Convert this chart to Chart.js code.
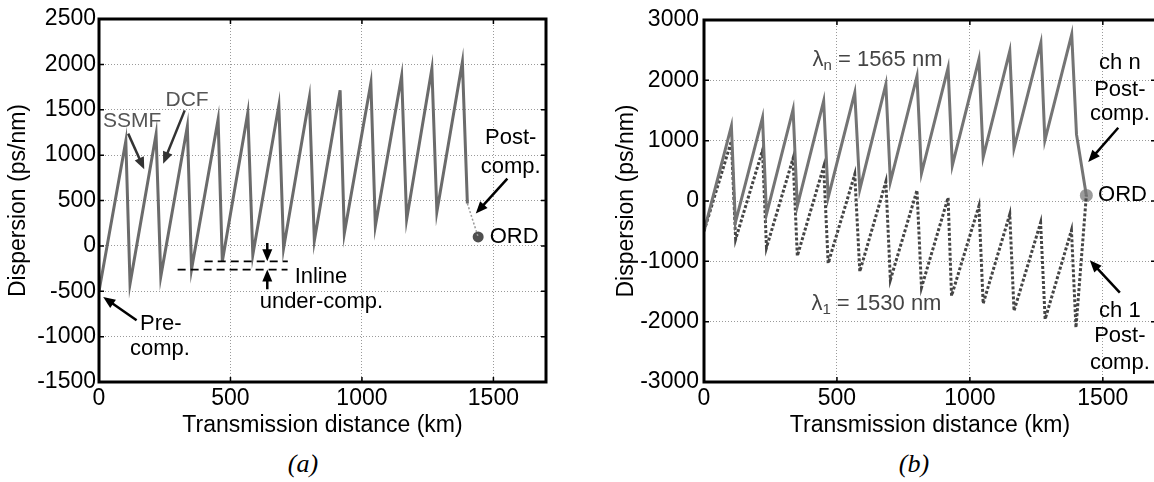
<!DOCTYPE html>
<html>
<head>
<meta charset="utf-8">
<script src="https://cdn.jsdelivr.net/npm/chart.js@4.4.0/dist/chart.umd.min.js"></script>
<style>
html, body { margin: 0; padding: 0; background: #fff; overflow: hidden; width: 1154px; height: 482px; }
#wrapA { position: absolute; left: 0; top: 0; width: 560px; height: 440px; }
#wrapB { position: absolute; left: 600px; top: 0; width: 570px; height: 440px; }
.cap { position: absolute; top: 449px; width: 100px; text-align: center; line-height: 30px;
       font: italic 26px "Liberation Serif", "DejaVu Serif", serif; color: #000; }
</style>
</head>
<body>
<div id="wrapA"><canvas id="chartA"></canvas></div>
<div id="wrapB"><canvas id="chartB"></canvas></div>
<div class="cap" style="left:253px">(a)</div>
<div class="cap" style="left:864px">(b)</div>

<script>
// ---- datos (a): un solo canal ----
const aKm   = [0, 102, 118, 217, 235, 336, 352, 453, 469, 566, 585, 684, 702, 800, 819, 917, 933, 1034, 1051, 1151, 1170, 1266, 1285, 1382, 1401];
const aDisp = [-500, 1155, -418, 1229, -338, 1317, -257, 1394, -173, 1468, -99, 1549, -25, 1633, 58, 1714, 139, 1795, 219, 1872, 292, 1953, 376, 2026, 467];
const aPostKm   = [1401, 1442];
const aPostDisp = [467, 98];
const aOrd = [1442, 98];

// ---- datos (b): canal n (1565 nm) y canal 1 (1530 nm) ----
const nKm   = [0, 103, 118, 220, 235, 335, 351, 450, 467, 567, 586, 684, 701, 801, 818, 918, 934, 1034, 1050, 1150, 1166, 1267, 1282, 1383, 1401, 1438];
const nDisp = [-500, 1242, -359, 1380, -221, 1518, -83, 1656, 55, 1794, 193, 1932, 317, 2070, 460, 2207, 591, 2346, 728, 2483, 872, 2621, 1005, 2760, 1104, 92];
const oneKm   = [0, 103, 119, 220, 235, 335, 351, 450, 467, 567, 586, 684, 701, 801, 818, 918, 931, 1034, 1050, 1150, 1166, 1266, 1283, 1382, 1399, 1438];
const oneDisp = [-500, 993, -634, 839, -773, 707, -911, 568, -1032, 442, -1170, 320, -1308, 177, -1435, 55, -1573, -83, -1700, -221, -1821, -359, -1959, -485, -2098, 92];
const bOrd = [1438, 92];

const xTicks = [0, 500, 1000, 1500];
const aYTicks = [-1500, -1000, -500, 0, 500, 1000, 1500, 2000, 2500];
const bYTicks = [-3000, -2000, -1000, 0, 1000, 2000, 3000];

const FONT = "'Liberation Sans', Arial, Helvetica, sans-serif";

function pts(xs, ys) {
    return xs.map((x, i) => ({ x: x, y: ys[i] }));
}

function arrow(ctx, x1, y1, x2, y2, color) {
    const a = Math.atan2(y2 - y1, x2 - x1), L = 12, H = 5;
    ctx.strokeStyle = color; ctx.fillStyle = color; ctx.lineWidth = 2.5;
    ctx.setLineDash([]);
    ctx.beginPath();
    ctx.moveTo(x1, y1);
    ctx.lineTo(x2 - L * 0.8 * Math.cos(a), y2 - L * 0.8 * Math.sin(a));
    ctx.stroke();
    ctx.beginPath();
    ctx.moveTo(x2, y2);
    ctx.lineTo(x2 - L * Math.cos(a) + H * Math.sin(a), y2 - L * Math.sin(a) - H * Math.cos(a));
    ctx.lineTo(x2 - L * Math.cos(a) - H * Math.sin(a), y2 - L * Math.sin(a) + H * Math.cos(a));
    ctx.closePath();
    ctx.fill();
}

// caja negra, marcas internas y anotaciones
const decoPlugin = {
    id: 'deco',
    afterDatasetsDraw(chart, args, opts) {
        const ctx = chart.ctx, ca = chart.chartArea;
        const xs = chart.scales.x, ys = chart.scales.y;
        const px = v => xs.getPixelForValue(v), py = v => ys.getPixelForValue(v);
        ctx.save();

        // marcas internas
        ctx.strokeStyle = '#000'; ctx.lineWidth = 1.5; ctx.setLineDash([]);
        ctx.beginPath();
        opts.xTicks.forEach(t => {
            ctx.moveTo(px(t), ca.top); ctx.lineTo(px(t), ca.top + 5);
            ctx.moveTo(px(t), ca.bottom); ctx.lineTo(px(t), ca.bottom - 5);
        });
        opts.yTicks.forEach(t => {
            ctx.moveTo(ca.left, py(t)); ctx.lineTo(ca.left + 5, py(t));
            ctx.moveTo(ca.right, py(t)); ctx.lineTo(ca.right - 5, py(t));
        });
        ctx.stroke();

        ctx.lineWidth = 3;
        ctx.strokeRect(ca.left, ca.top, ca.right - ca.left, ca.bottom - ca.top);

        // lineas discontinuas
        (opts.dashes || []).forEach(d => {
            ctx.strokeStyle = '#000'; ctx.lineWidth = 1.8; ctx.setLineDash([8, 5]);
            ctx.beginPath();
            ctx.moveTo(px(d[0]), py(d[1])); ctx.lineTo(px(d[2]), py(d[3]));
            ctx.stroke();
        });
        ctx.setLineDash([]);

        (opts.arrows || []).forEach(a => arrow(ctx, px(a[0]), py(a[1]), px(a[2]), py(a[3]), a[4] || '#000'));

        ctx.textBaseline = 'middle';
        (opts.texts || []).forEach(t => {
            ctx.font = (t.size || 22) + 'px ' + FONT;
            ctx.fillStyle = t.color || '#000';
            ctx.textAlign = t.align || 'left';
            let x = px(t.x);
            const y = py(t.y);
            if (t.sub) {
                ctx.textAlign = 'left';
                ctx.fillText('\u03bb', x, y);
                x += ctx.measureText('\u03bb').width;
                ctx.font = '15px ' + FONT;
                ctx.fillText(t.sub, x, y + 6);
                x += ctx.measureText(t.sub).width;
                ctx.font = (t.size || 22) + 'px ' + FONT;
                ctx.fillText(t.text, x, y);
            } else {
                ctx.fillText(t.text, x, y);
            }
        });
        ctx.restore();
    }
};

function makeScales(yMin, yMax, yStep, yTicks, yWidth, yTitlePad, yTickPad) {
    return {
        x: {
            type: 'linear', min: 0, max: 1700,
            ticks: { stepSize: 500, color: '#000', font: { family: FONT, size: 23 }, padding: 3, maxRotation: 0,
                     callback: v => String(v) },
            afterBuildTicks: s => { s.ticks = xTicks.map(v => ({ value: v })); },
            afterFit: s => { s.height = 58; },
            grid: { color: '#9a9a9a', lineWidth: 1, drawTicks: false },
            border: { display: false, dash: [1, 2] },
            title: { display: true, text: 'Transmission distance (km)', color: '#000',
                     font: { family: FONT, size: 23 }, padding: { top: 0, bottom: 1 } }
        },
        y: {
            type: 'linear', min: yMin, max: yMax,
            ticks: { stepSize: yStep, color: '#000', font: { family: FONT, size: 23 }, padding: yTickPad,
                     callback: v => String(v) },
            afterBuildTicks: s => { s.ticks = yTicks.map(v => ({ value: v })); },
            afterFit: s => { s.width = yWidth; },
            grid: { color: '#9a9a9a', lineWidth: 1, drawTicks: false },
            border: { display: false, dash: [1, 2] },
            title: { display: true, text: 'Dispersion (ps/nm)', color: '#000',
                     font: { family: FONT, size: 23 }, padding: { top: yTitlePad, bottom: 0 } }
        }
    };
}

new Chart(document.getElementById('chartA'), {
    type: 'line',
    data: {
        datasets: [
            { data: pts(aKm, aDisp), borderColor: '#6b6b6b', borderWidth: 3, pointRadius: 0, tension: 0 },
            { data: pts(aPostKm, aPostDisp), borderColor: '#9a9a9a', borderWidth: 1.5, borderDash: [2, 2], pointRadius: 0 },
            { data: [{ x: aOrd[0], y: aOrd[1] }], showLine: false, pointRadius: 5.5, pointBackgroundColor: '#4f4f4f', pointBorderWidth: 0 }
        ]
    },
    options: {
        responsive: true, maintainAspectRatio: false, animation: false,
        layout: { padding: { left: 0, top: 19, right: 14, bottom: 0 } },
        plugins: {
            legend: { display: false }, tooltip: { enabled: false },
            deco: {
                xTicks: xTicks, yTicks: aYTicks,
                texts: [
                    { text: 'SSMF', x: 15, y: 1376, color: '#555', size: 21 },
                    { text: 'DCF', x: 253, y: 1604, color: '#555', size: 21 },
                    { text: 'Post-', x: 1566, y: 1185, align: 'center' },
                    { text: 'comp.', x: 1566, y: 869, align: 'center' },
                    { text: 'ORD', x: 1486, y: 95 },
                    { text: 'Inline', x: 744, y: -343 },
                    { text: 'under-comp.', x: 611, y: -618 },
                    { text: 'Pre-', x: 156, y: -856 },
                    { text: 'comp.', x: 118, y: -1131 }
                ],
                arrows: [
                    [111, 1237, 172, 844, '#333'],
                    [326, 1493, 244, 906, '#333'],
                    [1553, 741, 1433, 356],
                    [640, 32, 640, -170],
                    [640, -478, 640, -261],
                    [143, -819, 16, -563]
                ],
                dashes: [
                    [402, -170, 718, -170],
                    [299, -261, 717, -261]
                ]
            }
        },
        scales: makeScales(-1500, 2500, 500, aYTicks, 99, 5, 3)
    },
    plugins: [decoPlugin]
});

new Chart(document.getElementById('chartB'), {
    type: 'line',
    data: {
        datasets: [
            { data: pts(nKm, nDisp), borderColor: '#747474', borderWidth: 3, pointRadius: 0, tension: 0 },
            { data: pts(oneKm, oneDisp), borderColor: '#454545', borderWidth: 3, borderDash: [3, 2], pointRadius: 0, tension: 0 },
            { data: [{ x: bOrd[0], y: bOrd[1] }], showLine: false, pointRadius: 6.5, pointBackgroundColor: '#9b9b9b', pointBorderWidth: 0 }
        ]
    },
    options: {
        responsive: true, maintainAspectRatio: false, animation: false,
        layout: { padding: { left: 0, top: 20, right: 14, bottom: 0 } },
        plugins: {
            legend: { display: false }, tooltip: { enabled: false },
            deco: {
                xTicks: xTicks, yTicks: bYTicks,
                texts: [
                    { text: ' = 1565 nm', sub: 'n', x: 408, y: 2346, color: '#444' },
                    { text: ' = 1530 nm', sub: '1', x: 404, y: -1710, color: '#444' },
                    { text: 'ch n', x: 1564, y: 2290, align: 'center' },
                    { text: 'Post-', x: 1564, y: 1849, align: 'center' },
                    { text: 'comp.', x: 1564, y: 1435, align: 'center' },
                    { text: 'ORD', x: 1482, y: 95 },
                    { text: 'ch 1', x: 1564, y: -1821, align: 'center' },
                    { text: 'Post-', x: 1564, y: -2235, align: 'center' },
                    { text: 'comp.', x: 1564, y: -2677, align: 'center' }
                ],
                arrows: [
                    [1558, 1214, 1445, 646],
                    [1564, -1518, 1451, -982]
                ]
            }
        },
        scales: makeScales(-3000, 3000, 1000, bYTicks, 104, 13, 5)
    },
    plugins: [decoPlugin]
});
</script>
</body>
</html>
